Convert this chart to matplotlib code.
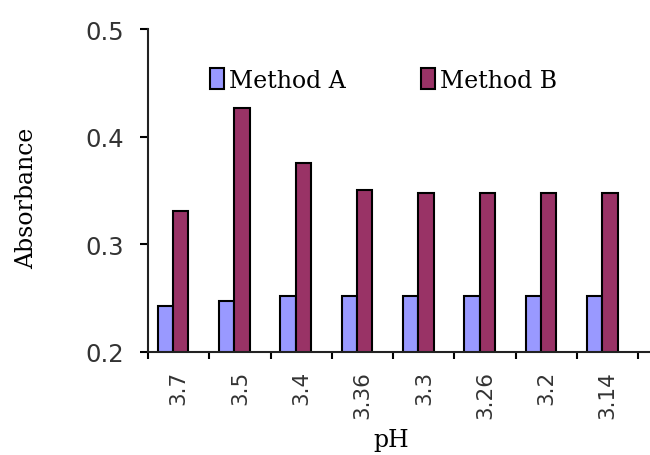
import numpy as np
import matplotlib.pyplot as plt

# data
ph_labels = ["3.7", "3.5", "3.4", "3.36", "3.3", "3.26", "3.2", "3.14"]
method_a = [0.243, 0.247, 0.252, 0.252, 0.252, 0.252, 0.252, 0.252]
method_b = [0.331, 0.427, 0.376, 0.350, 0.348, 0.348, 0.348, 0.348]

color_a = "#9999FF"
color_b = "#993366"

fig = plt.figure(figsize=(6.5, 4.56), dpi=100)
ax = fig.add_axes([0.2277, 0.2259, 0.7723, 0.7083])

x = np.arange(len(ph_labels))
w = 0.25
ax.bar(x - 0.215, method_a, width=w, bottom=0, color=color_a,
       edgecolor="black", linewidth=1.5, label="Method A")
ax.bar(x + 0.035, method_b, width=w, bottom=0, color=color_b,
       edgecolor="black", linewidth=1.5, label="Method B")

ax.set_ylim(0.2, 0.5)
ax.set_xlim(-0.5, 7.69)
ax.set_yticks([0.2, 0.3, 0.4, 0.5])
ax.set_yticklabels(["0.2", "0.3", "0.4", "0.5"])

# labels at category centres, tick marks at category boundaries
ax.set_xticks(x)
ax.set_xticklabels(ph_labels, rotation=90, fontsize=15.5, color="#333333")
ax.set_xticks(np.arange(len(ph_labels) + 1) - 0.5, minor=True)
ax.tick_params(axis="x", which="major", length=0, pad=13)
ax.tick_params(axis="x", which="minor", length=5, width=1.5, direction="out")
ax.tick_params(axis="y", length=6, width=1.5, pad=11, labelsize=17.5,
               labelcolor="#333333")

for s in ["top", "right"]:
    ax.spines[s].set_visible(False)
for s in ["left", "bottom"]:
    ax.spines[s].set_linewidth(1.5)
    ax.spines[s].set_color("#222222")

fig.text(27 / 650, 1 - 198 / 456, "Absorbance", rotation=90,
         ha="center", va="center", family="DejaVu Serif", fontsize=17)
fig.text(391 / 650, 1 - 441 / 456, "pH", ha="center", va="center",
         family="DejaVu Serif", fontsize=17)

ax.legend(ncol=2, frameon=False, loc="center left",
          bbox_to_anchor=(210 / 650, 1 - 81 / 456),
          bbox_transform=fig.transFigure,
          prop={"family": "DejaVu Serif", "size": 17},
          handlelength=0.6, handleheight=0.95, handletextpad=0.2,
          columnspacing=3.2, borderpad=0, borderaxespad=0)

fig.savefig("out.png", dpi=100)
